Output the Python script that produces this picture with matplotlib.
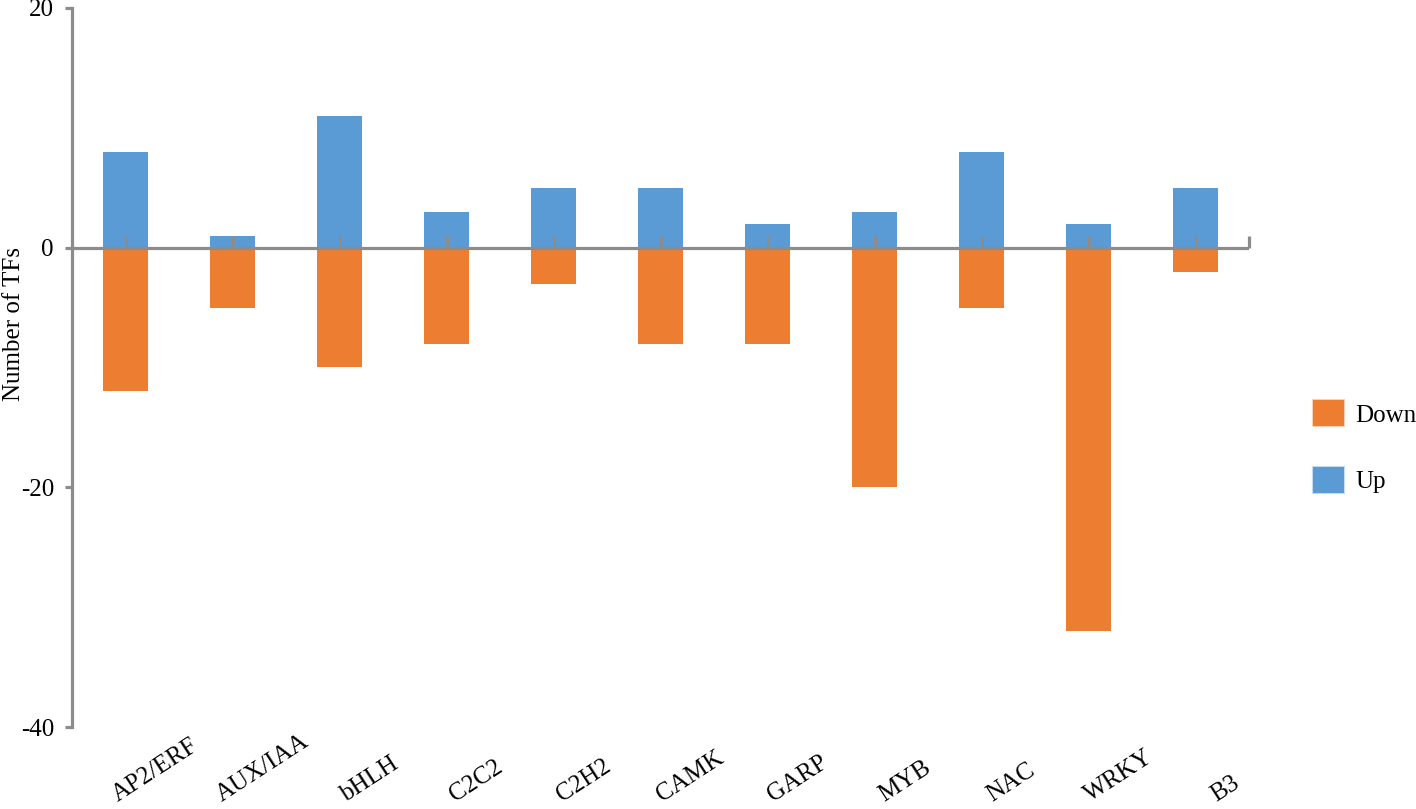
import numpy as np
import matplotlib
matplotlib.use("Agg")
import matplotlib.pyplot as plt
import matplotlib.transforms as mtransforms
from matplotlib.patches import Patch

categories = ["AP2/ERF", "AUX/IAA", "bHLH", "C2C2", "C2H2", "CAMK",
              "GARP", "MYB", "NAC", "WRKY", "B3"]
up_values = [8, 1, 11, 3, 5, 5, 2, 3, 8, 2, 5]
down_values = [12, 5, 10, 8, 3, 8, 8, 20, 5, 32, 2]
y_ticks = [-40, -20, 0, 20]

BLUE = "#5B9BD5"
ORANGE = "#ED7D31"
GRAY = "#8C8C8C"
FS = 18

plt.rcParams["font.family"] = ["Liberation Serif", "DejaVu Serif"]

W, H = 1416, 809
fig = plt.figure(figsize=(W / 100, H / 100), dpi=100)
ax = fig.add_axes([72 / W, 1 - 727 / H, (1249 - 72) / W, (727 - 8) / H])

x = np.arange(len(categories))
width = 0.42
ax.bar(x, up_values, width=width, color=BLUE, zorder=2)
ax.bar(x, -np.array(down_values), width=width, color=ORANGE, zorder=2)

ax.set_xlim(-0.5, len(categories) - 0.5)
ax.set_ylim(-40, 20)

# zero line and small ticks
ax.axhline(0, color=GRAY, lw=2.3, zorder=3)
ax.vlines(x, 0, 0.95, color=GRAY, lw=2.2, zorder=3)
ax.vlines(len(categories) - 0.5, 0, 0.95, color=GRAY, lw=2.3, zorder=3,
          clip_on=False)

for s in ["top", "right", "bottom"]:
    ax.spines[s].set_visible(False)
ax.spines["left"].set_color(GRAY)
ax.spines["left"].set_linewidth(2.3)

ax.set_yticks(y_ticks)
ax.set_yticklabels([str(v) for v in y_ticks])
ax.tick_params(axis="y", direction="out", length=5, width=2.3, color=GRAY,
               labelsize=FS, pad=8)
ax.set_xticks([])

# category labels at the bottom
trans = mtransforms.blended_transform_factory(ax.transData, fig.transFigure)
for xi, lab in zip(x, categories):
    ax.text(xi + 0.28, 1 - 806 / H, lab, transform=trans, rotation=33,
            ha="center", va="bottom", fontsize=FS, clip_on=False)

fig.text(14 / W, 1 - 324 / H, "Number of TFs", rotation=90,
         ha="center", va="center", fontsize=FS)

handles = [Patch(facecolor=ORANGE, edgecolor=(0.93, 0.49, 0.19, 0.35), lw=1.5),
           Patch(facecolor=BLUE, edgecolor=(0.36, 0.61, 0.84, 0.35), lw=1.5)]
fig.legend(handles, ["Down", "Up"], loc="upper left",
           bbox_to_anchor=(1313 / W, 1 - 400 / H), frameon=False,
           fontsize=FS, handlelength=1.25, handleheight=1.25,
           handletextpad=0.45, labelspacing=1.6, borderpad=0,
           borderaxespad=0)

fig.savefig("out.png", dpi=100)
